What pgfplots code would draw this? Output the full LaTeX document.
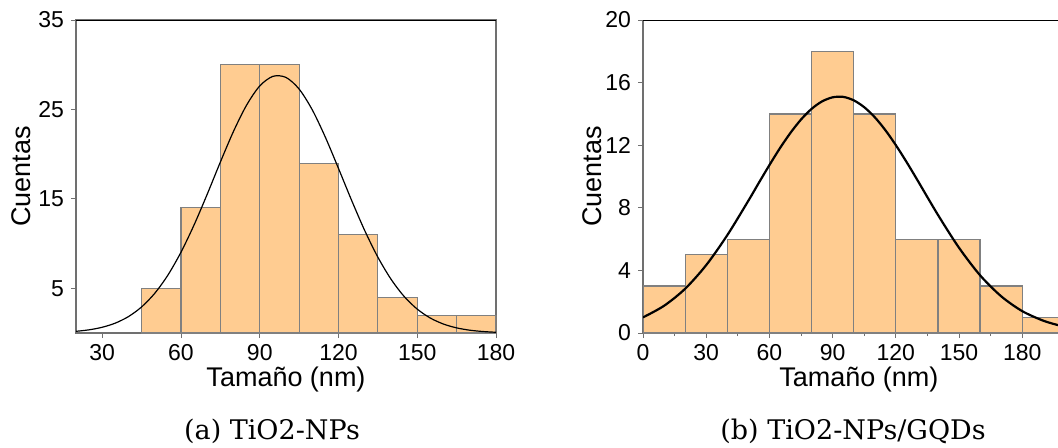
\documentclass[border=0pt]{standalone}
\usepackage{pgfplots}
\pgfplotsset{compat=1.18}
\usepackage{fontspec}
\setmainfont{Liberation Sans}
\newfontfamily\capfont{DejaVu Serif}
\definecolor{barfill}{HTML}{FFCC91}
\definecolor{baredge}{HTML}{808080}
\definecolor{axgray}{HTML}{707070}
\begin{document}
\begin{tikzpicture}
\path[use as bounding box] (0,0) rectangle (529pt,-223.5pt);
\pgfplotsset{
  every axis/.append style={
    scale only axis,
    height=156.5pt,
    ymin=0,
    tick align=outside,
    tick pos=left,
    major tick length=2.5pt,
    minor tick length=1.5pt,
    every tick/.style={axgray, line width=0.5pt},
    tick label style={font=\fontsize{11.5}{13}\selectfont},
    /pgf/number format/assume math mode=true,
    xticklabel style={yshift=0.5pt},
    label style={font=\fontsize{13.5}{15}\selectfont},
    y axis line style={axgray, line width=0.6pt},
    x axis line style={black, line width=0.6pt},
  }
}
% ---------- (a) ----------
\begin{axis}[
  at={(38pt,-166.5pt)}, anchor=south west,
  width=210pt,
  xmin=20, xmax=180, ymax=35,
  xtick={30,60,90,120,150,180},
  ytick={5,15,25,35},
  xlabel={Tamaño (nm)},
  ylabel={Cuentas},
  xlabel style={at={(rel axis cs:0.5,0)}, anchor=base, yshift=-26.8pt},
  ylabel style={at={([xshift=-27.3pt]rel axis cs:0,0.5)}, anchor=center},
]
\addplot[ybar interval, fill=barfill, draw=baredge, line width=0.6pt]
  coordinates {(45,5) (60,14) (75,30) (90,30) (105,19) (120,11) (135,4) (150,2) (165,2) (180,2)};
\addplot[black, line width=0.6pt, smooth] coordinates {
(20,0.19) (25,0.357) (30,0.644) (35,1.11) (40,1.84) (45,2.92) (50,4.44) (55,6.47)
(60,9.04) (65,12.10) (70,15.53) (75,19.12) (80,22.55) (85,25.49) (90,27.63) (95,28.70)
(100,28.58) (105,27.28) (110,24.96) (115,21.89) (120,18.40) (125,14.83)
(130,11.45) (135,8.48) (140,6.02) (145,4.09) (150,2.67) (155,1.67) (160,1.00)
(165,0.574) (170,0.316) (175,0.167) (180,0.084)};
\draw[black, line width=0.6pt] (rel axis cs:0,1) -- (rel axis cs:1,1);
\end{axis}
\node[font=\capfont\fontsize{13.5}{15}\selectfont, anchor=base] at (136pt,-219.5pt) {(a) TiO2-NPs};
% ---------- (b) ----------
\begin{axis}[
  at={(321.5pt,-166.5pt)}, anchor=south west,
  width=207.5pt,
  axis lines*=left,
  xmin=0, xmax=197, ymax=20,
  xtick={0,30,60,90,120,150,180},
  minor x tick num=1,
  ytick={0,4,8,12,16,20},
  xlabel={Tamaño (nm)},
  ylabel={Cuentas},
  xlabel style={at={(rel axis cs:0.52,0)}, anchor=base, yshift=-26.8pt},
  ylabel style={at={([xshift=-25.3pt]rel axis cs:0,0.5)}, anchor=center},
]
\addplot[ybar interval, fill=barfill, draw=baredge, line width=0.6pt]
  coordinates {(0,3) (20,5) (40,6) (60,14) (80,18) (100,14) (120,6) (140,6) (160,3) (180,1) (200,1)};
\addplot[black, line width=1.1pt, smooth] coordinates {
(0,1.00) (10,1.74) (20,2.83) (30,4.34) (40,6.25) (50,8.45) (55,9.60) (60,10.73) (65,11.81) (70,12.79)
(75,13.64) (80,14.32) (85,14.80) (90,15.06) (95,15.09) (100,14.87) (105,14.43) (110,13.79) (115,12.97) (120,12.01)
(125,10.95) (130,9.83)
(140,7.55) (150,5.45) (160,3.69) (170,2.35) (180,1.40) (190,0.788) (197,0.506)};
\draw[black, line width=0.6pt] (rel axis cs:0,1) -- (rel axis cs:1,1);
\end{axis}
\node[font=\capfont\fontsize{13.5}{15}\selectfont, anchor=base] at (426.5pt,-219.5pt) {(b) TiO2-NPs/GQDs};
\end{tikzpicture}
\end{document}
